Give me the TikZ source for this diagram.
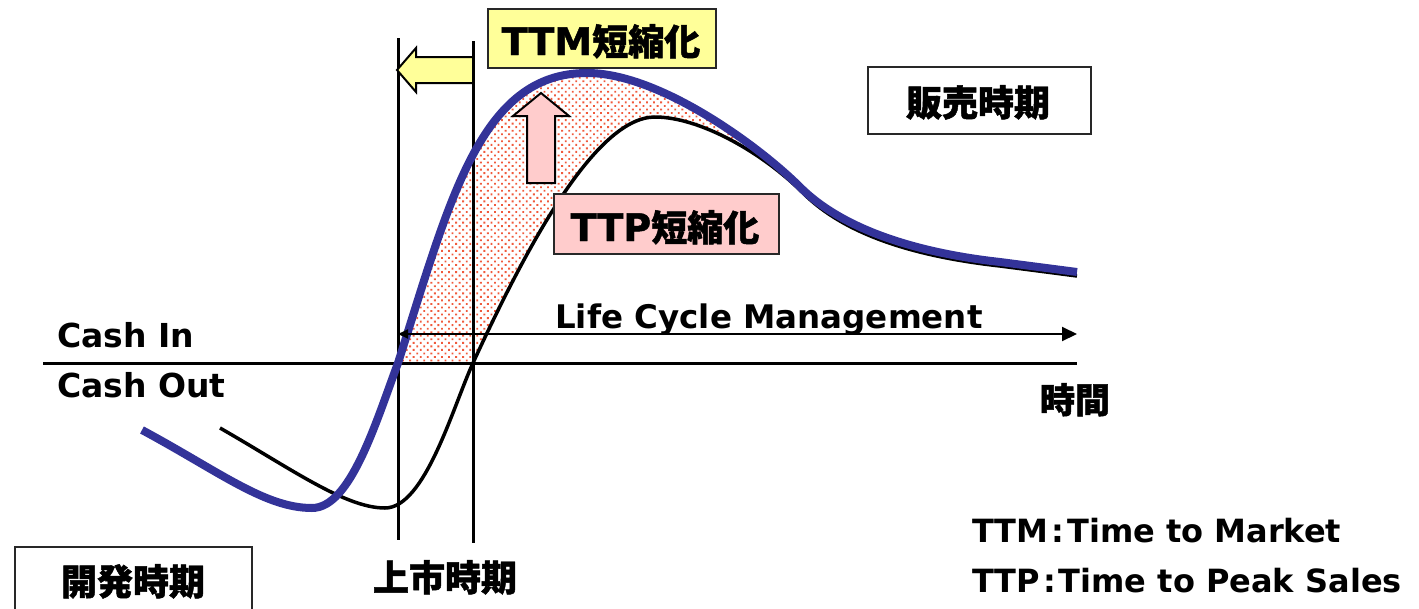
\documentclass[tikz,border=0pt]{standalone}
\usepackage{fontspec}
\setmainfont{DejaVu Sans}
\newfontfamily\jp{Noto Sans CJK JP}[BoldFeatures={FakeBold=1.3}]
\newfontfamily\heavy{DejaVu Sans}[BoldFeatures={FakeBold=1.2}]
\usetikzlibrary{arrows.meta,patterns.meta}
\definecolor{curveblue}{RGB}{51,51,153}
\definecolor{ttmyellow}{RGB}{255,255,153}
\definecolor{ttppink}{RGB}{255,204,204}
\definecolor{dotred}{RGB}{240,90,60}
\definecolor{boxline}{RGB}{40,40,40}
\begin{document}
\begin{tikzpicture}[x=1pt,y=-1pt,
  latlabel/.style={font=\bfseries\fontsize{33}{36}\selectfont, inner sep=0pt, anchor=base west},
  jplabel/.style={font=\jp\bfseries\fontsize{36}{40}\selectfont, inner sep=0pt, anchor=base},
  framebox/.style={draw=boxline, line width=2pt, inner sep=0pt},
  guide/.style={line width=3pt, black},
  arrowshape/.style={draw=black, line width=2pt, line join=miter}]
\useasboundingbox (0,0) rectangle (1419,608);

% dotted region between curves
\fill[pattern={Dots[distance=5pt,radius=1.3pt,angle=45]}, pattern color=dotred]
  (398,363) .. controls (450,200) and (480,73) .. (587,73)
  .. controls (660,73) and (760,147) .. (800,187)
  -- (803,193) .. controls (763,153) and (700,117) .. (655,117)
  .. controls (595,117) and (525,250) .. (473,363)
  -- cycle;

% axis and vertical guides
\coordinate (axL) at (43,363);
\coordinate (axR) at (1077,363);
\coordinate (v1t) at (398,38);
\coordinate (v1b) at (398,540);
\coordinate (v2t) at (473,41);
\coordinate (v2b) at (473,543);
\draw[guide] (axL) -- (axR);
\draw[guide] (v1t) -- (v1b);
\draw[guide] (v2t) -- (v2b);

% black curve
\draw[line width=3.5pt, black]
  (220,428) .. controls (290,468) and (345,508) .. (385,508)
  .. controls (425,508) and (453,406.5) .. (473,363)
  .. controls (525,250) and (595,117) .. (655,117)
  .. controls (700,117) and (763,153) .. (803,193)
  .. controls (843,233) and (910,256) .. (1000,266)
  -- (1077,276);

% blue curve
\draw[line width=8pt, curveblue]
  (142,430) .. controls (220,472) and (265,508) .. (312,508)
  .. controls (350,508) and (375,425) .. (398,363)
  .. controls (450,200) and (480,73) .. (587,73)
  .. controls (660,73) and (760,147) .. (800,187)
  .. controls (840,227) and (910,252) .. (1000,262)
  -- (1077,272);

% life cycle arrow
\coordinate (lcmL) at (398,334);
\coordinate (lcmR) at (1077,334);
\draw[line width=2pt, {Triangle[length=10pt,width=9pt]}-{Triangle[length=15pt,width=14pt]}] (lcmL) -- (lcmR);

% yellow left arrow
\draw[arrowshape, fill=ttmyellow] (473,57) -- (416,57) -- (416,48) -- (397,70) -- (416,92) -- (416,83) -- (473,83) -- cycle;
% pink up arrow
\draw[arrowshape, fill=ttppink] (527,183) -- (527,116) -- (513,116) -- (541,93) -- (569,116) -- (555,116) -- (555,183) -- cycle;

% boxes
\node[framebox, fill=ttmyellow, minimum width=228, minimum height=59] (ttmbox) at (602,38.5) {};
\node[jplabel] (ttmtext) at (601,55) {{\heavy\bfseries\fontsize{38}{40}\selectfont TTM}短縮化};

\node[framebox, fill=ttppink, minimum width=225, minimum height=60] (ttpbox) at (666.5,224) {};
\node[jplabel] (ttptext) at (665,241) {{\heavy\bfseries\fontsize{38}{40}\selectfont TTP}短縮化};

\node[framebox, fill=white, minimum width=223, minimum height=67] (salebox) at (979.5,100.5) {};
\node[jplabel] (saletext) at (978,116) {販売時期};

\node[framebox, fill=white, minimum width=237, minimum height=93] (devbox) at (133.5,593.5) {};
\node[jplabel] (devtext) at (133,595) {開発時期};

\node[jplabel] (launch) at (445,591) {上市時期};
\node[jplabel, font=\jp\bfseries\fontsize{35}{40}\selectfont] (time) at (1075,413) {時間};

% latin labels
\node[latlabel] (cashin) at (57,347) {Cash In};
\node[latlabel] (cashout) at (57,397) {Cash Out};
\node[latlabel, font=\bfseries\fontsize{32.5}{36}\selectfont] (lcm) at (555,328) {Life Cycle Management};
\node[latlabel, font=\bfseries\fontsize{32}{36}\selectfont] (leg1) at (972,542) {TTM\hspace{3pt}:\hspace{3pt}Time to Market};
\node[latlabel, font=\bfseries\fontsize{32}{36}\selectfont] (leg2) at (972,592) {TTP\hspace{3pt}:\hspace{3pt}Time to Peak Sales};
\end{tikzpicture}
\end{document}
